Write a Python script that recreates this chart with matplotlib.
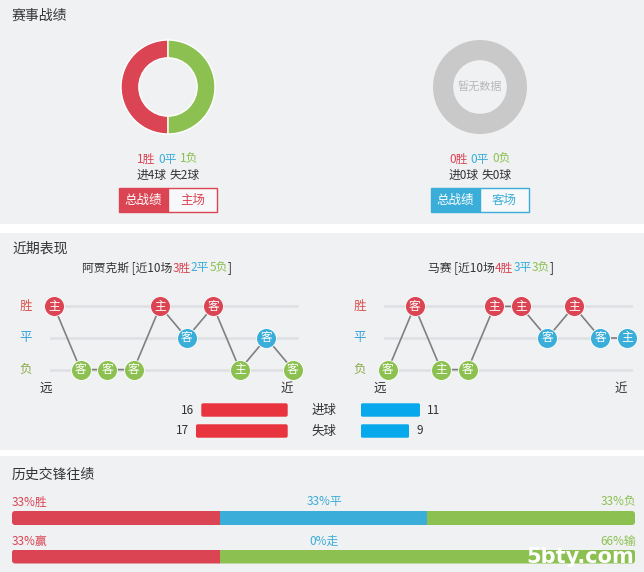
import matplotlib
matplotlib.use("Agg")
import matplotlib.pyplot as plt
from matplotlib.patches import Rectangle, FancyBboxPatch

plt.rcParams['font.family'] = ['Noto Sans CJK SC', 'DejaVu Sans']

# Données
left_team = '阿贾克斯'
right_team = '马赛'

# bilan (victoires, nuls, défaites) et buts (pour, contre)
left_summary = [1, 0, 1]
left_goals = [4, 2]
right_summary = [0, 0, 0]
right_goals = [0, 0]

# forme récente (10 derniers matchs, du plus ancien au plus récent)
left_results = ['W', 'L', 'L', 'L', 'W', 'D', 'W', 'L', 'D', 'L']
left_venue = ['主', '客', '客', '客', '主', '客', '客', '主', '客', '客']
right_results = ['L', 'W', 'L', 'L', 'W', 'W', 'D', 'W', 'D', 'D']
right_venue = ['客', '客', '主', '客', '主', '主', '客', '主', '客', '主']

goal_labels = ['进球', '失球']
left_goal_totals = [16, 17]
right_goal_totals = [11, 9]

h2h_result = [33, 33, 33]
h2h_result_labels = ['胜', '平', '负']
h2h_handicap = [33, 0, 66]
h2h_handicap_labels = ['赢', '走', '输']

RED = '#da4453'
BLUE = '#3aaed8'
GREEN = '#8cc152'
BG = '#f0f1f3'
W, H = 644, 572

fig = plt.figure(figsize=(W / 100, H / 100), dpi=100)
fig.patch.set_facecolor('white')
ax = fig.add_axes([0, 0, 1, 1])
ax.set_xlim(0, W)
ax.set_ylim(H, 0)
ax.axis('off')
renderer = fig.canvas.get_renderer()


def px_axes(x0, y0, w, h):
    a = fig.add_axes([x0 / W, 1 - (y0 + h) / H, w / W, h / H])
    a.set_facecolor('none')
    return a


def rounded_clip(a, w_px, h_px, r_px):
    # rectangle arrondi en coordonnées d'axes, rayon en pixels
    p = FancyBboxPatch((0, 0), 1, 1, boxstyle=f'round,pad=0,rounding_size={r_px / w_px}',
                       mutation_aspect=w_px / h_px, transform=a.transAxes,
                       facecolor='none', edgecolor='none')
    a.add_patch(p)
    return p


def rich_text(x, y, parts, size=8.5, ha='center'):
    # parts: (texte, couleur, espace après en px)
    texts = []
    cx = x
    for s, c, gap in parts:
        t = ax.text(cx, y, s, color=c, fontsize=size, ha='left', va='center')
        cx += t.get_window_extent(renderer).width + gap
        texts.append(t)
    shift = (cx - x) / 2 if ha == 'center' else 0
    for t in texts:
        t.set_x(t.get_position()[0] - shift)


# Fonds des sections
for y0, y1 in [(0, 224), (233, 450), (456, 572)]:
    ax.add_patch(Rectangle((0, y0), W, y1 - y0, color=BG, lw=0))

ax.text(12, 16, '赛事战绩', fontsize=10, color='#333', va='center')
ax.text(12, 249, '近期表现', fontsize=10, color='#333', va='center')
ax.text(12, 475, '历史交锋往绩', fontsize=10, color='#333', va='center')


# Donuts
def donut(cx, cy, summary, goals, color, tab2):
    a = px_axes(cx - 47, cy - 47, 94, 94)
    if sum(summary) > 0:
        vals = [v for v in summary if v > 0]
        cols = [c for v, c in zip(summary, [RED, BLUE, GREEN]) if v > 0]
        a.pie(vals, colors=cols, startangle=90, counterclock=True,
              wedgeprops=dict(width=0.38, edgecolor='white', linewidth=1))
    else:
        a.pie([1], colors=['#c9c9c9'], startangle=90,
              wedgeprops=dict(width=0.43, linewidth=0))
        a.text(0, 0, '暂无数据', ha='center', va='center', fontsize=8, color='#b8b8b8')
    a.set_xlim(-1, 1)
    a.set_ylim(-1, 1)
    rich_text(cx, 159, [(f'{summary[0]}胜', RED, 3), (f'{summary[1]}平', BLUE, 3),
                        (f'{summary[2]}负', GREEN, 0)])
    rich_text(cx, 175, [(f'进{goals[0]}球', '#333', 3), (f'失{goals[1]}球', '#333', 0)])
    ax.add_patch(Rectangle((cx - 49, 188), 49, 24, facecolor=color, edgecolor=color, lw=1))
    ax.add_patch(Rectangle((cx, 188), 49, 24, facecolor='#f7f8fa', edgecolor=color, lw=1))
    ax.text(cx - 24.5, 200, '总战绩', color='white', fontsize=9, ha='center', va='center')
    ax.text(cx + 24.5, 200, tab2, color=color, fontsize=9, ha='center', va='center')


donut(168, 87, left_summary, left_goals, RED, '主场')
donut(480, 87, right_summary, right_goals, BLUE, '客场')

# Forme récente
level = {'W': 1, 'D': 0, 'L': -1}
res_color = {'W': RED, 'D': BLUE, 'L': GREEN}
step, yunit = 26.55, 31.6


def form_chart(x0, title_x, team, results, venue):
    n = len(results)
    a = px_axes(x0 - step, 338 - 1.5 * yunit, 11 * step, 3 * yunit)
    a.set_xlim(-1, 10)
    a.set_ylim(-1.5, 1.5)
    a.axis('off')
    for lv in [1, 0, -1]:
        a.plot([-0.1, 9.15], [lv, lv], color='#e0e1e5', lw=2, zorder=1)
    for lv, lab, c in [(1, '胜', '#d9534f'), (0, '平', '#3aa3d8'), (-1, '负', '#8aab4a')]:
        a.text(-1.06, lv, lab, color=c, fontsize=9, ha='center', va='center')
    xs = list(range(n))
    ys = [level[r] for r in results]
    a.plot(xs, ys, color='#808080', lw=1.2, zorder=2)
    for x, y, r, v in zip(xs, ys, results, venue):
        a.plot(x, y, 'o', ms=14.3, color=res_color[r], mec='white', mew=0.6,
               zorder=3, clip_on=False)
        a.text(x, y, v, color='white', fontsize=8.5, ha='center', va='center', zorder=4)
    a.text(-0.3, -1.6, '远', fontsize=9, color='#333', ha='center', va='center')
    a.text(8.77, -1.6, '近', fontsize=9, color='#333', ha='center', va='center')
    nw, nd, nl = results.count('W'), results.count('D'), results.count('L')
    rich_text(title_x, 268, [(f'{team} [近{n}场', '#333', 0), (f'{nw}胜', RED, 0),
                             (f'{nd}平', BLUE, 0), (f'{nl}负', GREEN, 0), (']', '#333', 0)],
              size=8.5)


form_chart(54, 157, left_team, left_results, left_venue)
form_chart(388, 491, right_team, right_results, right_venue)


# Buts marqués / encaissés
def goal_bars(x0, values, color, invert):
    a = px_axes(x0, 399.5, 108, 42)
    a.set_xlim((20, 0) if invert else (0, 20))
    a.set_ylim(1.5, -0.5)
    a.axis('off')
    bars = a.barh(range(len(values)), values, height=0.64, color=color)
    for b in bars:
        bx, by = b.get_x(), b.get_y()
        bw, bh = b.get_width(), b.get_height()
        clip = FancyBboxPatch((bx, by), bw, bh, boxstyle='round,pad=0,rounding_size=0.35',
                              mutation_aspect=(1 / 21) / (1 / 5.4),
                              facecolor='none', edgecolor='none')
        a.add_patch(clip)
        b.set_clip_path(clip)
    for i, v in enumerate(values):
        a.text(v + 1.3, i, str(v), fontsize=8.5, color='#333', va='center',
               ha='right' if invert else 'left')


goal_bars(179.7, left_goal_totals, '#e8343f', True)
goal_bars(360.7, right_goal_totals, '#07a9ec', False)
for i, lab in enumerate(goal_labels):
    ax.text(324, 410 + 21 * i, lab, fontsize=9, color='#333', ha='center', va='center')


# Historique des confrontations
def stacked_row(yc, label_y, values, labels):
    a = px_axes(12, yc - 7, 623, 14)
    a.set_xlim(0, sum(values))
    a.set_ylim(-0.5, 0.5)
    a.axis('off')
    clip = rounded_clip(a, 623, 14, 3)
    left = 0
    for v, c in zip(values, [RED, BLUE, GREEN]):
        if v > 0:
            bar = a.barh(0, v, left=left, height=1, color=c)[0]
            bar.set_clip_path(clip)
        left += v
    ax.text(12, label_y, f'{values[0]}%{labels[0]}', color=RED, fontsize=8.5, va='center')
    ax.text(324, label_y, f'{values[1]}%{labels[1]}', color=BLUE, fontsize=8.5,
            ha='center', va='center')
    ax.text(636, label_y, f'{values[2]}%{labels[2]}', color=GREEN, fontsize=8.5,
            ha='right', va='center')


stacked_row(518, 502, h2h_result, h2h_result_labels)
stacked_row(556.5, 541, h2h_handicap, h2h_handicap_labels)

# filigrane
fig.text(634 / W, 1 - 557 / H, '5bty.com', color='white', fontsize=15, fontweight='bold',
         ha='right', va='center', family='DejaVu Sans', zorder=10)

plt.savefig('out.png', dpi=100, facecolor=fig.get_facecolor())
